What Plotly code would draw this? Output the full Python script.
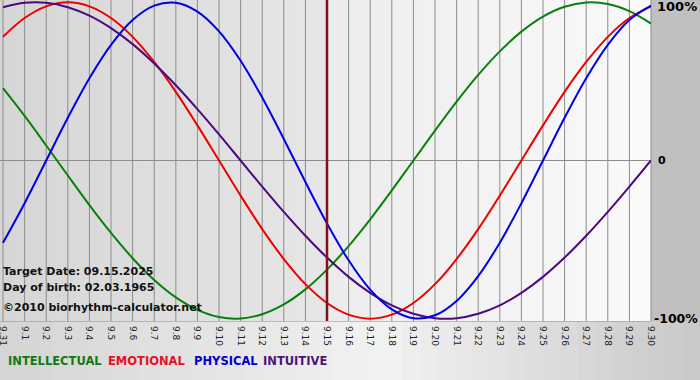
import plotly.graph_objects as go

# ---------------- data ----------------
day_labels = ["9.31"] + [f"9.{d}" for d in range(1, 31)]
day_index = list(range(31))

intellectual = [45.8, 28.2, 9.5, -9.5, -28.2, -45.8, -61.8, -75.6, -86.6, -94.5,
                -99.0, -99.9, -97.2, -91.0, -81.5, -69.0, -54.1, -37.2, -18.9, 0.0,
                18.9, 37.2, 54.1, 69.0, 81.5, 91.0, 97.2, 99.9, 99.0, 94.5, 86.6]
emotional = [78.2, 90.1, 97.5, 100.0, 97.5, 90.1, 78.2, 62.3, 43.4, 22.2,
             0.0, -22.2, -43.4, -62.3, -78.2, -90.1, -97.5, -100.0, -97.5, -90.1,
             -78.2, -62.3, -43.4, -22.2, 0.0, 22.2, 43.4, 62.3, 78.2, 90.1, 97.5]
physical = [-52.0, -27.0, 0.0, 27.0, 52.0, 73.1, 88.8, 97.9, 99.8, 94.2,
            81.7, 63.1, 39.8, 13.6, -13.6, -39.8, -63.1, -81.7, -94.2, -99.8,
            -97.9, -88.8, -73.1, -52.0, -27.0, 0.0, 27.0, 52.0, 73.1, 88.8, 97.9]
intuitive = [96.9, 99.7, 99.7, 96.9, 91.6, 83.7, 73.6, 61.4, 47.6, 32.5,
             16.5, 0.0, -16.5, -32.5, -47.6, -61.4, -73.6, -83.7, -91.6, -96.9,
             -99.7, -99.7, -96.9, -91.6, -83.7, -73.6, -61.4, -47.6, -32.5, -16.5, 0.0]

target_index = 15
y_tick_vals = [100, 0, -100]
y_tick_text = ["100%", "0", "-100%"]
info_lines = ["Target Date: 09.15.2025", "Day of birth: 02.03.1965", "©2010 biorhythm-calculator.net"]
legend_names = ["INTELLECTUAL", "EMOTIONAL", "PHYSICAL", "INTUITIVE"]

# ---------------- styling ----------------
W, H = 700, 380
PL, PR, PT, PB = 0, 49, 0, 59          # plot area: x 0..651, y 0..321
plot_w = W - PL - PR
plot_h = H - PT - PB
x_min, x_max = -0.14, 30.0
y_min, y_max = -101.5, 101.5

colors = {
    "INTELLECTUAL": "#0a800a",
    "EMOTIONAL": "#ee0000",
    "PHYSICAL": "#0000e6",
    "INTUITIVE": "#4b0a82",
}
legend_colors = {
    "INTELLECTUAL": "#127a12",
    "EMOTIONAL": "#e8101c",
    "PHYSICAL": "#0000cc",
    "INTUITIVE": "#50127e",
}
FONT = "DejaVu Sans"


def lerp_color(c1, c2, t):
    a = [int(c1[i:i + 2], 16) for i in (1, 3, 5)]
    b = [int(c2[i:i + 2], 16) for i in (1, 3, 5)]
    return "#" + "".join(f"{round(a[k] + (b[k] - a[k]) * t):02x}" for k in range(3))


shapes = []


def stripes(x0, x1, y0, y1, stops, n, xref, yref):
    for i in range(n):
        t = (i + 0.5) / n
        col = stops[-1][1]
        for j in range(len(stops) - 1):
            if stops[j][0] <= t <= stops[j + 1][0]:
                tt = (t - stops[j][0]) / (stops[j + 1][0] - stops[j][0])
                col = lerp_color(stops[j][1], stops[j + 1][1], tt)
                break
        xa = x0 + (x1 - x0) * i / n
        xb = x0 + (x1 - x0) * (i + 1) / n + (x1 - x0) * 0.002
        shapes.append(dict(type="rect", xref=xref, yref=yref, x0=xa, x1=xb, y0=y0, y1=y1,
                           fillcolor=col, line_width=0, layer="below"))


px = lambda p: p / plot_w  # pixel -> paper x
# bottom band and right margin
stripes(px(0), px(W), -PB / plot_h, 0, [(0, "#d4d4d4"), (0.55, "#f2f2f2"), (1, "#c8c8c8")], 40, "paper", "paper")
shapes.append(dict(type="rect", xref="paper", yref="paper", x0=1, x1=px(W), y0=0, y1=1,
                   fillcolor="#c0c0c0", line_width=0, layer="below"))
# plot area: past (grey) and future (light) regions
stripes(x_min, target_index, y_min, y_max, [(0, "#d6d6d6"), (1, "#e6e6e6")], 20, "x", "y")
stripes(target_index, x_max, y_min, y_max, [(0, "#ececec"), (1, "#fafafa")], 20, "x", "y")

# grid lines
for d in day_index:
    shapes.append(dict(type="line", xref="x", yref="y", x0=d, x1=d, y0=y_min, y1=y_max,
                       line=dict(color="#8c8c8c", width=1), layer="below"))
shapes.append(dict(type="line", xref="x", yref="y", x0=x_min, x1=x_max, y0=0, y1=0,
                   line=dict(color="#8c8c8c", width=1), layer="below"))
shapes.append(dict(type="line", xref="paper", yref="paper", x0=0, x1=1, y0=0, y1=0,
                   line=dict(color="#8c8c8c", width=1), layer="below"))
shapes.append(dict(type="line", xref="paper", yref="paper", x0=1, x1=1, y0=0, y1=1,
                   line=dict(color="#8c8c8c", width=1), layer="below"))
# target date line
shapes.append(dict(type="line", xref="x", yref="y", x0=target_index, x1=target_index, y0=y_min, y1=y_max,
                   line=dict(color="#7c1418", width=2.5), layer="above"))

fig = go.Figure()
series = {"INTELLECTUAL": intellectual, "EMOTIONAL": emotional,
          "PHYSICAL": physical, "INTUITIVE": intuitive}
for name in ["INTELLECTUAL", "EMOTIONAL", "INTUITIVE", "PHYSICAL"]:
    fig.add_trace(go.Scatter(x=day_index, y=series[name], mode="lines", name=name,
                             line=dict(color=colors[name], width=2, shape="spline", smoothing=1.0),
                             hoverinfo="skip", showlegend=False, cliponaxis=False))

annotations = []
label_style = {"100%": (4, -4, 13), "0": (5, 0, 11), "-100%": (1, 0, 12.5)}
for v, t in zip(y_tick_vals, y_tick_text):
    xs, ys, fs = label_style[t]
    annotations.append(dict(xref="paper", yref="y", x=1, y=v, text=f"<b>{t}</b>", showarrow=False,
                            xanchor="left", yanchor="middle", xshift=xs, yshift=ys,
                            font=dict(family=FONT, size=fs, color="#000000")))
info_y = [271, 287, 307]
for t, py in zip(info_lines, info_y):
    annotations.append(dict(xref="paper", yref="paper", x=0, y=1 - py / plot_h, text=f"<b>{t}</b>",
                            showarrow=False, xanchor="left", yanchor="middle", xshift=1,
                            font=dict(family=FONT, size=11, color="#111111")))
legend_x = [6, 106, 192, 261]
for name, lx in zip(legend_names, legend_x):
    annotations.append(dict(xref="paper", yref="paper", x=px(lx), y=1 - 361 / plot_h, text=f"<b>{name}</b>",
                            showarrow=False, xanchor="left", yanchor="middle",
                            font=dict(family=FONT, size=11.5, color=legend_colors[name])))

fig.update_layout(
    width=W, height=H,
    margin=dict(l=PL, r=PR, t=PT, b=PB, pad=0, autoexpand=False),
    paper_bgcolor="#d8d8d8",
    plot_bgcolor="#e6e6e6",
    shapes=shapes,
    annotations=annotations,
    showlegend=False,
    xaxis=dict(range=[x_min, x_max], tickmode="array", tickvals=day_index, ticktext=day_labels,
               tickangle=90, showgrid=False, zeroline=False, showline=False, ticks="",
               automargin=False, ticklabeloverflow="allow", ticklabelstandoff=4,
               tickfont=dict(family=FONT, size=9, color="#222222"), fixedrange=True),
    yaxis=dict(range=[y_min, y_max], showticklabels=False, showgrid=False, zeroline=False,
               showline=False, ticks="", automargin=False, fixedrange=True),
)

fig.write_html("out.html", config={"displayModeBar": False},
               post_script="document.body.style.margin='0px';document.body.style.overflow='hidden';")
